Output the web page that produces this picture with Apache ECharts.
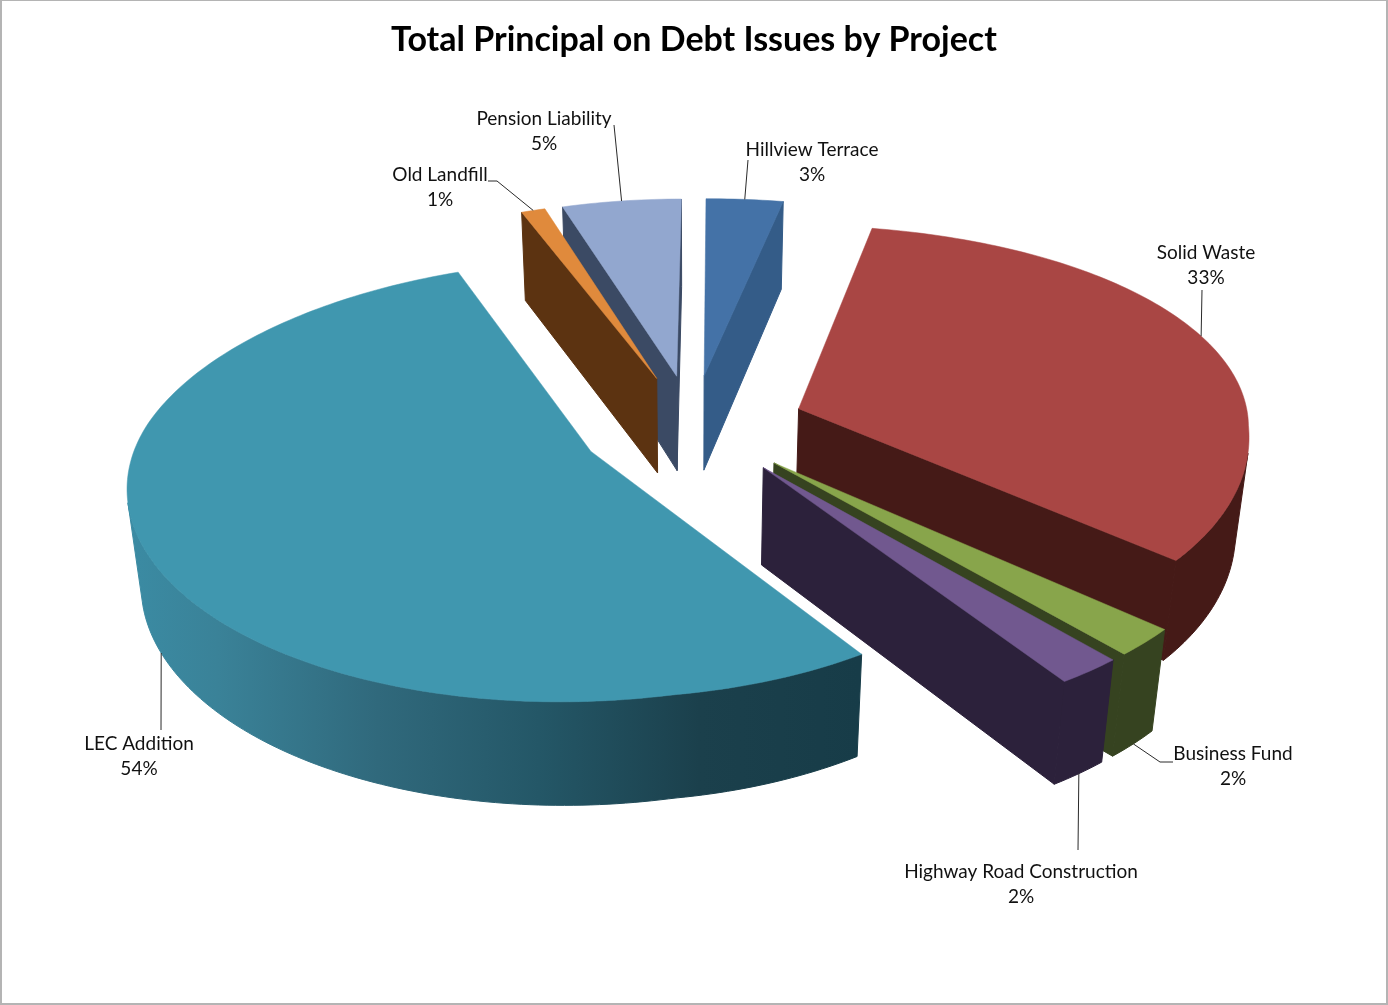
<!DOCTYPE html>
<html>
<head>
<meta charset="utf-8">
<title>Total Principal on Debt Issues by Project</title>
<style>
  html, body { margin: 0; padding: 0; background: #fff; }
  #chart { position: absolute; left: 0; top: 0; width: 1388px; height: 1005px; }
  #frame { position: absolute; left: 0; top: 0; width: 1388px; height: 1005px; box-sizing: border-box; pointer-events: none; border: solid #b4b4b4; border-width: 1px 2px 2px 2px; }
</style>
<script src="https://cdn.jsdelivr.net/npm/echarts@6/dist/echarts.min.js"></script>
</head>
<body>
<div id="chart"></div>
<div id="frame"></div>
<script>
// Share of total principal per project, clockwise from twelve o'clock.
const projects = ['Hillview Terrace', 'Solid Waste', 'Business Fund', 'Highway Road Construction', 'LEC Addition', 'Old Landfill', 'Pension Liability'];
const shares = [3, 33, 2, 2, 54, 1, 5];

// Colours of the top surface, the outer/cut walls per project.
const topColors = ['#4472a7', '#a94644', '#88a54b', '#71588f', '#4097af', '#e08a3c', '#92a7cf'];
const wallColors = ['#345c88', '#451a17', '#364320', '#2c213b', '#17404d', '#5c3311', '#3b4a64'];

// Label placement: centre of the name line, and the start of each leader line.
const labelCenters = [[812, 150], [1206, 253], [1233, 754], [1021, 872], [139, 744], [440, 175], [544, 119]];
const leaderStubs = [
  [[748, 160]],
  [[1202, 290]],
  [[1173, 762], [1160, 762]],
  [[1078, 850]],
  [[161, 730]],
  [[488, 181], [497, 181]],
  [[614, 125]]
];
// Leaders of the front slices end on the lower rim, the others on the upper rim.
const leaderOnLowerRim = [false, false, true, true, true, false, false];
// Where along the rim each leader lands, in degrees from the slice's middle.
const leaderShift = [0, -2, 0, 0, 2.5, 0, 0];

// Back-to-front order in which the exploded slices are painted.
const paintOrder = [0, 6, 5, 1, 2, 3, 4];

// Projection of the tilted disc onto the page.
const view = {
  cx: 693, cy: 426, scaleX: 451, scaleY: 207, persp: 0.11, perspDepth: 0.025,
  skewBack: 3, skewBackWide: 14, skewFront: 16, frontBulge: 9, frontRightBulge: 18,
  thickness: 96, thicknessFalloff: 0.07, explode: 0.25
};

function project(u, v, z) {
  const w = 1 + view.persp * v;
  const front = Math.max(-v, 0);
  const skew = v >= 0
    ? (view.skewBack + view.skewBackWide * Math.abs(u)) * v
    : view.skewFront * v * Math.min(1, Math.max(0, (0.95 - u) / 0.5));
  const x = view.cx + (view.scaleX * u + skew) / (w + view.perspDepth * z);
  const y = view.cy - view.scaleY * v / w
    + view.frontBulge * front * front
    + view.frontRightBulge * Math.max(u, 0) * front
    + view.thickness * z * (1 - view.thicknessFalloff * v);
  return [x, y];
}

// Angular extent of every slice, in degrees clockwise from the top.
const total = shares.reduce((a, b) => a + b, 0);
let running = 0;
const spans = shares.map(s => {
  const from = running;
  running += s / total * 360;
  return [from, running];
});

function sliceGeometry(i) {
  const [from, to] = spans[i];
  const mid = (from + to) / 2 * Math.PI / 180;
  const ou = view.explode * Math.sin(mid), ov = view.explode * Math.cos(mid);
  const at = (deg, z) => {
    const t = deg * Math.PI / 180;
    return project(ou + Math.sin(t), ov + Math.cos(t), z);
  };
  const apex = z => project(ou, ov, z);
  const steps = Math.max(4, Math.ceil(to - from));
  const degs = [];
  for (let s = 0; s <= steps; s++) degs.push(from + (to - from) * s / steps);
  return { at, apex, degs, midDeg: (from + to) / 2 };
}

function signedArea(pts) {
  let a = 0;
  pts.forEach((p, k) => {
    const q = pts[(k + 1) % pts.length];
    a += p[0] * q[1] - q[0] * p[1];
  });
  return a / 2;
}

function polygon(points, fill, z2, edge) {
  return { type: 'polygon', z2: z2, shape: { points: points }, style: { fill: fill, stroke: fill, lineWidth: edge } };
}

function wallFill(i) {
  if (projects[i] !== 'LEC Addition') return wallColors[i];
  // The long front wall fades out towards the right, in page coordinates.
  return new echarts.graphic.LinearGradient(130, 0, 860, 0, [
    { offset: 0, color: '#3b8ba3' },
    { offset: 0.12, color: '#3a8298' },
    { offset: 0.34, color: '#30697c' },
    { offset: 0.56, color: '#245767' },
    { offset: 0.78, color: '#1b404c' },
    { offset: 1, color: '#173c48' }
  ], true);
}

function renderSlice(params, api) {
  const i = paintOrder[params.dataIndex];
  const g = sliceGeometry(i);
  const children = [];

  // Outer wall: only the runs of rim that face the viewer.
  let run = [];
  const flush = () => {
    if (run.length > 1) {
      const upper = run.map(d => g.at(d, 0));
      const lower = run.map(d => g.at(d, 1)).reverse();
      children.push(polygon(upper.concat(lower), wallFill(i), 1, 1));
    }
    run = [];
  };
  for (let k = 0; k < g.degs.length - 1; k++) {
    const a = g.degs[k], b = g.degs[k + 1];
    const quad = [g.at(a, 0), g.at(b, 0), g.at(b, 1), g.at(a, 1)];
    if (signedArea(quad) < 0) {
      if (!run.length) run.push(a);
      run.push(b);
    } else {
      flush();
    }
  }
  flush();

  // Flat faces left by the cut, when they turn towards the viewer.
  const first = g.degs[0], last = g.degs[g.degs.length - 1];
  const startCut = [g.apex(0), g.at(first, 0), g.at(first, 1), g.apex(1)];
  const endCut = [g.at(last, 0), g.apex(0), g.apex(1), g.at(last, 1)];
  [startCut, endCut].forEach(face => {
    if (signedArea(face) < 0) children.push(polygon(face, wallColors[i], 1, 1));
  });

  // Top surface.
  const topPts = [g.apex(0)].concat(g.degs.map(d => g.at(d, 0)));
  children.push(polygon(topPts, topColors[i], 2, 0.5));

  // Leader line and two-line label.
  const tip = g.at(g.midDeg + leaderShift[i], leaderOnLowerRim[i] ? 1 : 0);
  children.push({
    type: 'polyline', z2: 3, silent: true,
    shape: { points: leaderStubs[i].concat([tip]) },
    style: { fill: null, stroke: '#2a2a2a', lineWidth: 1 }
  });
  const [lx, ly] = labelCenters[i];
  [projects[i], shares[i] + '%'].forEach((line, k) => {
    children.push({
      type: 'text', z2: 4, silent: true,
      style: {
        text: line, x: lx, y: ly + k * 25, align: 'center', verticalAlign: 'middle',
        font: '19px Lato, "Open Sans", sans-serif', fill: '#111'
      }
    });
  });
  return { type: 'group', children: children };
}

const chart = echarts.init(document.getElementById('chart'), null, { renderer: 'canvas' });
chart.setOption({
  backgroundColor: '#fff',
  animation: false,
  title: {
    text: 'Total Principal on Debt Issues by Project',
    left: 'center',
    top: 18,
    textStyle: { fontFamily: 'Lato, "Open Sans", sans-serif', fontWeight: 'bold', fontSize: 34, color: '#000' }
  },
  series: [{
    type: 'custom',
    coordinateSystem: 'none',
    silent: true,
    data: paintOrder.map(i => ({ name: projects[i], value: shares[i] })),
    renderItem: renderSlice
  }]
});
</script>
</body>
</html>
